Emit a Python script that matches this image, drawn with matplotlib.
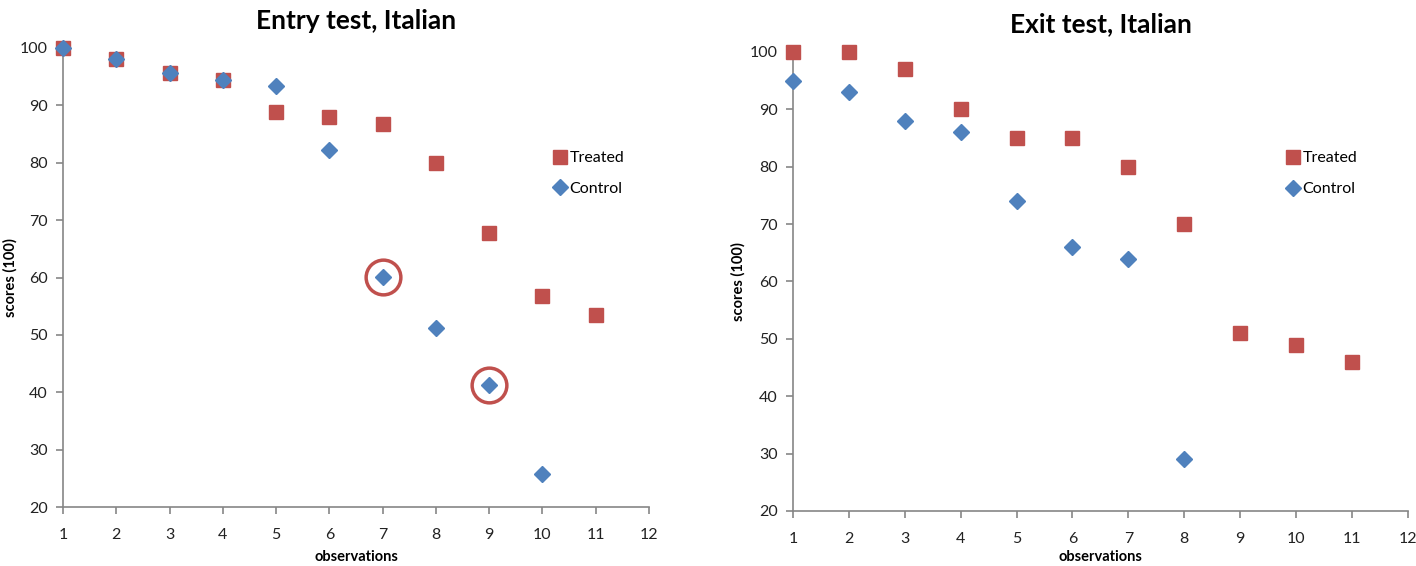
import matplotlib
matplotlib.use("Agg")
import matplotlib.pyplot as plt

plt.rcParams['font.family'] = ['Lato', 'DejaVu Sans']

obs = list(range(1, 12))

entry_treated = [100, 98, 95.7, 94.5, 88.8, 87.9, 86.7, 80.0, 67.8, 56.7, 53.4]
entry_control = [100, 98, 95.7, 94.5, 93.3, 82.3, 60.1, 51.2, 41.2, 25.7]
entry_circled = [7, 9]

exit_treated = [100, 100, 97, 90, 85, 85, 80, 70, 51, 49, 46]
exit_control = [95, 93, 88, 86, 74, 66, 64, 29]

x_ticks = list(range(1, 13))
y_ticks = list(range(20, 101, 10))

RED = '#C0504D'
BLUE = '#4F81BD'
GRAY = '#868686'

fig = plt.figure(figsize=(14.16, 5.66), dpi=100)
ax1 = fig.add_axes([0.0445, 0.1042, 0.4138, 0.811])
ax2 = fig.add_axes([0.560, 0.0972, 0.4343, 0.811])


def style(ax, title, ylab_x, xlab_y):
    ax.set_xlim(1, 12)
    ax.set_ylim(20, 100)
    ax.set_xticks(x_ticks)
    ax.set_yticks(y_ticks)
    for s in ['top', 'right']:
        ax.spines[s].set_visible(False)
    for s in ['left', 'bottom']:
        ax.spines[s].set_color(GRAY)
        ax.spines[s].set_linewidth(1.2)
    ax.tick_params(axis='both', direction='out', length=5, width=1.2,
                   color=GRAY, labelsize=11.5, labelcolor='#222222')
    ax.tick_params(axis='x', pad=10)
    ax.tick_params(axis='y', pad=6)
    ax.set_title(title, fontsize=19, fontweight='bold', pad=14)
    ax.set_xlabel('observations', fontsize=10.5, fontweight='bold')
    ax.set_ylabel('scores (100)', fontsize=10.5, fontweight='bold')
    ax.xaxis.label.set_va('center')
    ax.yaxis.label.set_va('center')
    ax.xaxis.set_label_coords(0.5, xlab_y)
    ax.yaxis.set_label_coords(ylab_x, 0.5)


def plot_series(ax, treated, control, lx, ly):
    ax.plot(obs[:len(treated)], treated, linestyle='none', marker='s',
            markersize=10, color=RED, markeredgecolor=RED, label='Treated',
            clip_on=False, zorder=3)
    ax.plot(obs[:len(control)], control, linestyle='none', marker='D',
            markersize=8.5, color=BLUE, markeredgecolor=BLUE, label='Control',
            clip_on=False, zorder=4)
    ax.legend(loc='center left', bbox_to_anchor=(lx, ly), frameon=False,
              fontsize=11.5, handletextpad=0.1, labelspacing=1.05,
              handlelength=1.0, borderaxespad=0, borderpad=0)


plot_series(ax1, entry_treated, entry_control, 0.834, 0.7266)
circ_y = [entry_control[o - 1] for o in entry_circled]
ax1.plot(entry_circled, circ_y, linestyle='none', marker='o', markersize=25,
         markerfacecolor='none', markeredgecolor=RED, markeredgewidth=2.5,
         zorder=5)
style(ax1, 'Entry test, Italian', -0.090, -0.109)

plot_series(ax2, exit_treated, exit_control, 0.80, 0.735)
style(ax2, 'Exit test, Italian', -0.089, -0.100)

fig.savefig('out.png', dpi=100)
